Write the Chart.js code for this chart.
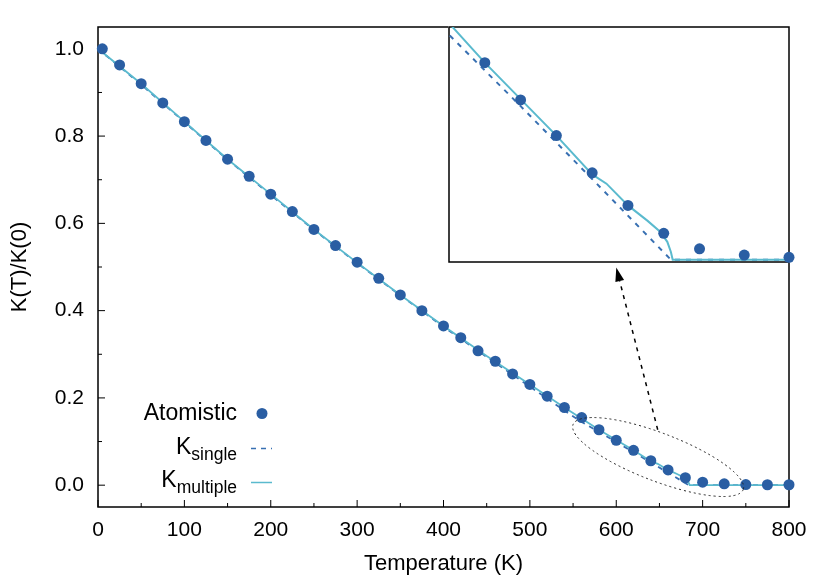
<!DOCTYPE html>
<html>
<head>
<meta charset="utf-8">
<script src="https://cdn.jsdelivr.net/npm/chart.js@4.4.1/dist/chart.umd.min.js"></script>
<style>
html, body { margin: 0; padding: 0; background: #fff; }
#wrap { position: relative; width: 830px; height: 581px; }
#main { position: absolute; left: 0; top: 0; }
#inset { position: absolute; left: 448px; top: 26px; }
</style>
</head>
<body>
<div id="wrap">
<canvas id="main" width="830" height="581"></canvas>
<canvas id="inset" width="349" height="237"></canvas>
</div>
<script>
// atomistic data
var tAtom = [5, 25, 50, 75, 100, 125, 150, 175, 200, 225, 250, 275, 300, 325, 350, 375, 400,
    420, 440, 460, 480, 500, 520, 540, 560, 580, 600, 620, 640, 660, 680, 700,
    725, 750, 775, 800];
var kAtom = [1.000, 0.963, 0.920, 0.876, 0.833, 0.790, 0.747, 0.708, 0.667, 0.627, 0.586, 0.549, 0.511, 0.474, 0.436, 0.400, 0.365,
    0.338, 0.308, 0.284, 0.255, 0.231, 0.204, 0.178, 0.155, 0.127, 0.103, 0.080, 0.056, 0.035, 0.017, 0.007,
    0.003, 0.0015, 0.001, 0.001];

// K single
var tSingle = [0, 50, 100, 150, 200, 250, 300, 350, 400, 450, 500, 540, 560, 600, 640, 684, 800];
var kSingle = [1.0, 0.918, 0.832, 0.746, 0.665, 0.585, 0.509, 0.435, 0.363, 0.294, 0.226, 0.171, 0.145, 0.099, 0.052, 0.0, 0.0];

// K multiple
var tMulti = [0, 50, 100, 150, 200, 250, 300, 350, 400, 450, 500, 540, 580, 620, 640, 648, 660, 671, 678, 682, 684, 685, 800];
var kMulti = [1.0, 0.920, 0.833, 0.747, 0.667, 0.586, 0.510, 0.436, 0.365, 0.296, 0.231, 0.178, 0.127, 0.080, 0.055, 0.049, 0.035, 0.025, 0.018, 0.0115, 0.005, 0.0, 0.0];

// tick labels
var xTicks = [0, 100, 200, 300, 400, 500, 600, 700, 800];
var yTicks = [0.0, 0.2, 0.4, 0.6, 0.8, 1.0];
var legendNames = [['Atomistic', ''], ['K', 'single'], ['K', 'multiple']];
var xTitle = 'Temperature (K)';
var yTitle = 'K(T)/K(0)';

var colAtom = 'rgb(42, 94, 163)';
var colSingle = 'rgb(56, 112, 178)';
var colMulti = 'rgb(90, 186, 206)';
var fontFam = "'Liberation Sans', Arial, sans-serif";

Chart.defaults.color = '#000';
Chart.defaults.font.family = fontFam;

function pts(xs, ys) {
    var out = [];
    for (var i = 0; i < xs.length; i++) {
        out.push({x: xs[i], y: ys[i]});
    }
    return out;
}

// frame + inward ticks
var framePlugin = {
    id: 'frame',
    beforeDatasetsDraw: function(chart) {
        var ctx = chart.ctx;
        var a = chart.chartArea;
        var xs = chart.scales.x;
        var ys = chart.scales.y;
        ctx.save();
        ctx.strokeStyle = '#000';
        ctx.lineWidth = 1;
        ctx.beginPath();
        var i, p, v;
        for (i = 0; i < xTicks.length; i++) {
            p = xs.getPixelForValue(xTicks[i]);
            ctx.moveTo(p, a.bottom); ctx.lineTo(p, a.bottom - 7);
            if (i < xTicks.length - 1) {
                v = (xTicks[i] + xTicks[i + 1]) / 2;
                p = xs.getPixelForValue(v);
                ctx.moveTo(p, a.bottom); ctx.lineTo(p, a.bottom - 4);
            }
        }
        for (i = 0; i < yTicks.length; i++) {
            p = ys.getPixelForValue(yTicks[i]);
            ctx.moveTo(a.left, p); ctx.lineTo(a.left + 7, p);
            if (i < yTicks.length - 1) {
                v = (yTicks[i] + yTicks[i + 1]) / 2;
                p = ys.getPixelForValue(v);
                ctx.moveTo(a.left, p); ctx.lineTo(a.left + 4, p);
            }
        }
        ctx.stroke();
        ctx.lineWidth = 1.5;
        ctx.strokeRect(a.left, a.top, a.right - a.left, a.bottom - a.top);
        ctx.restore();
    }
};

// legend, ellipse and arrow
var notesPlugin = {
    id: 'notes',
    afterDraw: function(chart) {
        var ctx = chart.ctx;
        var xs = chart.scales.x;
        var ys = chart.scales.y;
        ctx.save();

        // legend
        var right = 237;
        var base = [420, 453.5, 487];
        ctx.fillStyle = '#000';
        ctx.textAlign = 'left';
        ctx.textBaseline = 'alphabetic';
        for (var i = 0; i < legendNames.length; i++) {
            var main = legendNames[i][0];
            var sub = legendNames[i][1];
            ctx.font = '17.5px ' + fontFam;
            var ws = sub ? ctx.measureText(sub).width : 0;
            ctx.font = '23px ' + fontFam;
            var wm = ctx.measureText(main).width;
            ctx.fillText(main, right - ws - wm, base[i]);
            if (sub) {
                ctx.font = '17.5px ' + fontFam;
                ctx.fillText(sub, right - ws, base[i] + 6);
            }
        }
        ctx.fillStyle = colAtom;
        ctx.beginPath();
        ctx.arc(262, 413.5, 5.5, 0, Math.PI * 2);
        ctx.fill();
        ctx.lineWidth = 1.5;
        ctx.strokeStyle = colSingle;
        ctx.setLineDash([5, 5]);
        ctx.beginPath();
        ctx.moveTo(251, 448.5); ctx.lineTo(272, 448.5);
        ctx.stroke();
        ctx.setLineDash([]);
        ctx.strokeStyle = colMulti;
        ctx.beginPath();
        ctx.moveTo(251, 482.5); ctx.lineTo(272, 482.5);
        ctx.stroke();

        // dotted ellipse round the region of the inset
        var x1 = xs.getPixelForValue(550), y1 = ys.getPixelForValue(0.139);
        var x2 = xs.getPixelForValue(747), y2 = ys.getPixelForValue(-0.010);
        var cx = (x1 + x2) / 2, cy = (y1 + y2) / 2;
        var ra = Math.sqrt((x2 - x1) * (x2 - x1) + (y2 - y1) * (y2 - y1)) / 2;
        ctx.strokeStyle = '#222';
        ctx.lineWidth = 1;
        ctx.setLineDash([2, 3]);
        ctx.beginPath();
        ctx.ellipse(cx, cy, ra, 24, Math.atan2(y2 - y1, x2 - x1), 0, Math.PI * 2);
        ctx.stroke();

        // arrow to inset
        var ax = xs.getPixelForValue(648), ay = ys.getPixelForValue(0.127);
        var bx = xs.getPixelForValue(600), by = ys.getPixelForValue(0.499);
        var ang = Math.atan2(by - ay, bx - ax);
        var hl = 14, hw = 4.5;
        var hx = bx - hl * Math.cos(ang), hy = by - hl * Math.sin(ang);
        ctx.strokeStyle = '#000';
        ctx.lineWidth = 1.5;
        ctx.setLineDash([4, 5]);
        ctx.beginPath();
        ctx.moveTo(ax, ay); ctx.lineTo(hx, hy);
        ctx.stroke();
        ctx.setLineDash([]);
        ctx.fillStyle = '#000';
        ctx.beginPath();
        ctx.moveTo(bx, by);
        ctx.lineTo(hx - hw * Math.sin(ang), hy + hw * Math.cos(ang));
        ctx.lineTo(hx + hw * Math.sin(ang), hy - hw * Math.cos(ang));
        ctx.closePath();
        ctx.fill();
        ctx.restore();
    }
};

var mainChart = new Chart(document.getElementById('main'), {
    type: 'scatter',
    data: {
        datasets: [{
            label: 'Atomistic',
            data: pts(tAtom, kAtom),
            backgroundColor: colAtom,
            borderColor: colAtom,
            pointRadius: 5.5,
            pointBorderWidth: 0,
            clip: false,
            order: 0
        }, {
            label: 'K single',
            data: pts(tSingle, kSingle),
            showLine: true,
            borderColor: colSingle,
            borderWidth: 1.8,
            borderDash: [5, 5],
            pointRadius: 0,
            order: 2
        }, {
            label: 'K multiple',
            data: pts(tMulti, kMulti),
            showLine: true,
            borderColor: colMulti,
            borderWidth: 1.8,
            pointRadius: 0,
            order: 1
        }]
    },
    options: {
        responsive: false,
        animation: false,
        events: [],
        layout: { autoPadding: false, padding: { left: 0, right: 41, top: 27, bottom: 0 } },
        plugins: { legend: { display: false }, tooltip: { enabled: false } },
        scales: {
            x: {
                type: 'linear',
                min: 0,
                max: 800,
                grid: { display: false, drawTicks: false },
                border: { display: false },
                afterBuildTicks: function(scale) {
                    scale.ticks = xTicks.map(function(v) { return {value: v}; });
                },
                afterFit: function(scale) { scale.height = 74; },
                ticks: {
                    autoSkip: false,
                    maxRotation: 0,
                    padding: 11,
                    font: { size: 21 },
                    callback: function(v) { return String(v); }
                },
                title: {
                    display: true,
                    text: xTitle,
                    font: { size: 22 },
                    padding: { top: 0, bottom: 4 }
                }
            },
            y: {
                type: 'linear',
                min: -0.05,
                max: 1.05,
                grid: { display: false, drawTicks: false },
                border: { display: false },
                afterBuildTicks: function(scale) {
                    scale.ticks = yTicks.map(function(v) { return {value: v}; });
                },
                afterFit: function(scale) { scale.width = 98; },
                ticks: {
                    autoSkip: false,
                    padding: 14,
                    font: { size: 21 },
                    callback: function(v) { return v.toFixed(1); }
                },
                title: {
                    display: true,
                    text: yTitle,
                    font: { size: 22 },
                    padding: { top: 7, bottom: 0 }
                }
            }
        }
    },
    plugins: [framePlugin, notesPlugin]
});

// inset: only the atomistic points that fall inside its window
var insetLo = 560, insetHi = 750;
var tIn = [], kIn = [];
for (var i = 0; i < tAtom.length; i++) {
    if (tAtom[i] >= insetLo + 10 && tAtom[i] <= insetHi) {
        tIn.push(tAtom[i]);
        kIn.push(kAtom[i]);
    }
}

var insetFrame = {
    id: 'insetFrame',
    beforeDraw: function(chart) {
        var a = chart.chartArea;
        chart.ctx.save();
        chart.ctx.fillStyle = '#fff';
        chart.ctx.fillRect(a.left - 1, a.top - 1, a.right - a.left + 2, a.bottom - a.top + 2);
        chart.ctx.restore();
    },
    beforeDatasetsDraw: function(chart) {
        var ctx = chart.ctx;
        var a = chart.chartArea;
        ctx.save();
        ctx.strokeStyle = '#000';
        ctx.lineWidth = 1.5;
        ctx.strokeRect(a.left, a.top, a.right - a.left, a.bottom - a.top);
        ctx.restore();
    }
};

var insetChart = new Chart(document.getElementById('inset'), {
    type: 'scatter',
    data: {
        datasets: [{
            data: pts(tIn, kIn),
            backgroundColor: colAtom,
            pointRadius: 5.5,
            pointBorderWidth: 0,
            clip: false,
            order: 0
        }, {
            data: pts(tSingle, kSingle),
            showLine: true,
            borderColor: colSingle,
            borderWidth: 2,
            borderDash: [5, 6],
            pointRadius: 0,
            order: 2
        }, {
            data: pts(tMulti, kMulti),
            showLine: true,
            borderColor: colMulti,
            borderWidth: 2,
            pointRadius: 0,
            order: 1
        }]
    },
    options: {
        responsive: false,
        animation: false,
        events: [],
        layout: { autoPadding: false, padding: { left: 1, top: 1, bottom: 1, right: 8 } },
        plugins: { legend: { display: false }, tooltip: { enabled: false } },
        scales: {
            x: { type: 'linear', min: insetLo, max: insetHi, display: false },
            y: { type: 'linear', min: -0.0015, max: 0.15, display: false }
        }
    },
    plugins: [insetFrame]
});
</script>
</body>
</html>
